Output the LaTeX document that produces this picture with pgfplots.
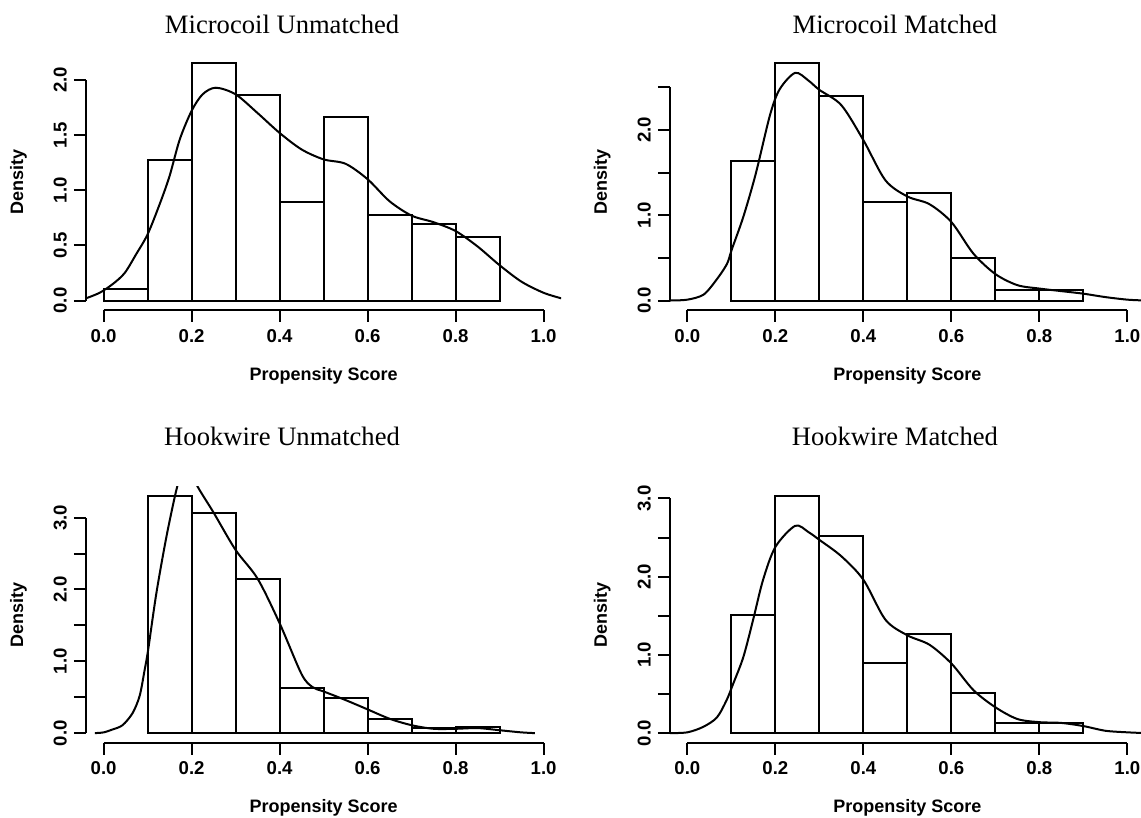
\documentclass[border=0pt]{standalone}
\usepackage{fontspec}
\setmainfont{Liberation Serif}
\setsansfont{Liberation Sans}
\usepackage{pgfplots}
\pgfplotsset{compat=1.18}

% R-like histogram panel: detached axes, outward ticks
\pgfplotsset{
  rhist/.style={
    scale only axis, width=237.6pt, height=128pt, anchor=south west,
    xmin=-0.04, xmax=1.04,
    axis x line*=bottom, axis y line*=left,
    axis line style={-, line width=1pt, black},
    x axis line style={shorten <=8.8pt, shorten >=8.8pt},
    tick align=outside, major tick length=6pt,
    tick style={line width=1pt, black},
    xtick={0,0.2,0.4,0.6,0.8,1}, xticklabels={0.0,0.2,0.4,0.6,0.8,1.0},
    tick label style={font=\sffamily\bfseries\fontsize{9.3}{11}\selectfont},
    yticklabel style={rotate=90, anchor=south},
    label style={font=\sffamily\bfseries\fontsize{9}{11}\selectfont},
    xlabel={Propensity Score}, ylabel={Density},
    xlabel style={at={([yshift=-35.2pt]axis description cs:0.5,0)}, anchor=base},
    ylabel style={at={([xshift=-33.8pt]axis description cs:0,0.5)}, anchor=center},
  },
  tpos/.style 2 args={every axis title/.style={at={([yshift=#2]axis description cs:#1,1)},
    anchor=base, font=\fontsize{13.3}{15}\selectfont}},
  bars/.style={ybar interval, fill=white, draw=black, line width=1pt},
  dens/.style={smooth, black, line width=1pt, no marks},
}

\begin{document}
\begin{tikzpicture}
\useasboundingbox (0,0) rectangle (570.5pt,409pt);

% Microcoil Unmatched
\begin{axis}[rhist, at={(43pt,254pt)},
  ymin=-0.086, ymax=2.236,
  ytick={0,0.5,1,1.5,2}, yticklabels={0.0,0.5,1.0,1.5,2.0},
  y axis line style={shorten <=4.74pt, shorten >=13.0pt},
  tpos={0.4126}{10pt}, title={Microcoil Unmatched}]
\addplot[bars] coordinates {(0,0.10)(0.1,1.27)(0.2,2.15)(0.3,1.86)(0.4,0.89)(0.5,1.66)(0.6,0.78)(0.7,0.69)(0.8,0.58)(0.9,0)};
\addplot[dens] coordinates {(-0.04,0.02)(-0.009,0.07)(0.021,0.15)(0.048,0.25)(0.074,0.42)(0.1,0.60)(0.128,0.88)(0.15,1.13)(0.173,1.46)(0.2,1.72)(0.225,1.87)(0.255,1.93)(0.3,1.87)(0.35,1.70)(0.4,1.52)(0.45,1.37)(0.5,1.28)(0.55,1.24)(0.6,1.10)(0.65,0.90)(0.7,0.77)(0.75,0.71)(0.8,0.63)(0.85,0.49)(0.9,0.32)(0.95,0.17)(1.0,0.07)(1.04,0.02)};
\end{axis}

% Microcoil Matched
\begin{axis}[rhist, at={(334.9pt,254pt)},
  ymin=-0.1112, ymax=2.8912,
  ytick={0,0.5,1,1.5,2,2.5}, yticklabels={0.0,,1.0,,2.0,},
  y axis line style={shorten <=4.74pt, shorten >=16.68pt},
  tpos={0.4737}{10pt}, title={Microcoil Matched}]
\addplot[bars] coordinates {(0.1,1.64)(0.2,2.78)(0.3,2.40)(0.4,1.15)(0.5,1.26)(0.6,0.50)(0.7,0.125)(0.8,0.125)(0.9,0)};
\addplot[dens] coordinates {(-0.04,0)(0,0.01)(0.037,0.07)(0.067,0.25)(0.09,0.43)(0.101,0.60)(0.127,0.98)(0.155,1.48)(0.188,2.18)(0.21,2.48)(0.245,2.67)(0.275,2.58)(0.3,2.47)(0.35,2.29)(0.4,1.88)(0.45,1.41)(0.5,1.22)(0.55,1.13)(0.6,0.92)(0.65,0.55)(0.7,0.31)(0.75,0.18)(0.8,0.14)(0.85,0.11)(0.9,0.08)(0.95,0.04)(1.0,0.01)(1.04,0)};
\end{axis}

% Hookwire Unmatched
\begin{axis}[rhist, at={(43pt,37.7pt)},
  ymin=-0.132, ymax=3.432,
  ytick={0,0.5,1,1.5,2,2.5,3}, yticklabels={0.0,,1.0,,2.0,,3.0},
  y axis line style={shorten <=4.74pt, shorten >=15.51pt},
  tpos={0.4126}{20.3pt}, title={Hookwire Unmatched}]
\addplot[bars] coordinates {(0.1,3.30)(0.2,3.07)(0.3,2.14)(0.4,0.63)(0.5,0.49)(0.6,0.20)(0.7,0.07)(0.8,0.09)(0.9,0)};
\addplot[dens] coordinates {(-0.02,0)(0,0.01)(0.02,0.05)(0.043,0.11)(0.066,0.28)(0.082,0.52)(0.093,0.87)(0.101,1.15)(0.12,1.95)(0.143,2.74)(0.166,3.40)(0.18,3.65)(0.19,3.72)(0.2,3.66)(0.213,3.44)(0.25,3.07)(0.3,2.55)(0.35,2.15)(0.4,1.53)(0.45,0.82)(0.475,0.64)(0.5,0.58)(0.55,0.46)(0.6,0.33)(0.65,0.20)(0.7,0.11)(0.75,0.06)(0.8,0.06)(0.85,0.07)(0.9,0.04)(0.95,0.01)(0.98,0)};
\end{axis}

% Hookwire Matched
\begin{axis}[rhist, at={(334.9pt,37.7pt)},
  ymin=-0.1212, ymax=3.1512,
  ytick={0,0.5,1,1.5,2,2.5,3}, yticklabels={0.0,,1.0,,2.0,,3.0},
  y axis line style={shorten <=4.74pt, shorten >=5.91pt},
  tpos={0.4737}{20.3pt}, title={Hookwire Matched}]
\addplot[bars] coordinates {(0.1,1.51)(0.2,3.03)(0.3,2.52)(0.4,0.89)(0.5,1.27)(0.6,0.51)(0.7,0.13)(0.8,0.13)(0.9,0)};
\addplot[dens] coordinates {(-0.04,0)(0,0.01)(0.036,0.08)(0.067,0.20)(0.089,0.42)(0.104,0.63)(0.127,0.97)(0.149,1.44)(0.172,1.96)(0.2,2.38)(0.245,2.65)(0.275,2.57)(0.3,2.47)(0.35,2.26)(0.4,1.96)(0.45,1.45)(0.5,1.25)(0.55,1.13)(0.6,0.89)(0.65,0.55)(0.7,0.33)(0.75,0.18)(0.8,0.14)(0.85,0.13)(0.9,0.09)(0.95,0.03)(1.0,0.01)(1.04,0)};
\end{axis}
\end{tikzpicture}
\end{document}
